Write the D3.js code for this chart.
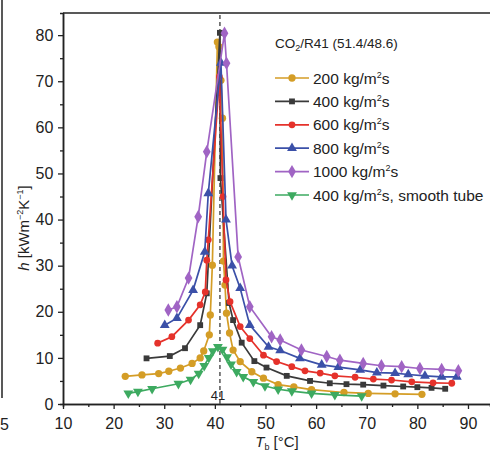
<!DOCTYPE html>
<html>
<head>
<meta charset="utf-8">
<script src="https://cdn.jsdelivr.net/npm/d3@7"></script>
<style>
  body { margin: 0; background: #fff; }
  svg { display: block; font-family: "Liberation Sans", Arial, sans-serif; }
</style>
</head>
<body>
<div id="chart"></div>
<script>
// data: bulk temperature Tb [°C] and h [kW/m2K]
var seriesNames = ["200 kg/m²s", "400 kg/m²s", "600 kg/m²s", "800 kg/m²s", "1000 kg/m²s", "400 kg/m²s, smooth tube"];

var t200 = [22.3, 25.6, 28.9, 30.9, 33.2, 35.5, 37.1, 37.8, 38.9, 39.1, 39.5, 40.5, 40.8, 41.2, 41.5, 41.7, 42.0, 42.3, 42.9, 43.6, 45.0, 47.3, 49.6, 52.5, 55.6, 59.1, 65.5, 70.3, 75.6, 80.9];
var h200 = [6.0, 6.3, 6.6, 7.1, 7.8, 8.8, 10.0, 11.5, 15.0, 19.3, 30.1, 78.5, 77.5, 70.2, 62.0, 31.0, 25.8, 19.7, 15.4, 11.7, 9.2, 7.0, 5.6, 4.2, 3.7, 3.1, 2.5, 2.3, 2.2, 2.1];

var t400 = [26.5, 31.1, 34.1, 37.1, 38.4, 41.0, 41.1, 42.8, 43.6, 45.3, 47.8, 50.2, 54.2, 58.8, 62.7, 66.0, 69.3, 73.3, 77.2, 80.0, 82.8, 85.5];
var h400 = [9.9, 10.4, 12.1, 17.1, 24.0, 80.5, 49.0, 21.9, 18.2, 13.3, 9.3, 7.9, 6.1, 5.0, 4.5, 4.3, 4.2, 4.0, 3.8, 3.65, 3.5, 3.3];

var t600 = [28.7, 31.5, 34.8, 37.1, 38.1, 38.4, 38.7, 40.9, 41.6, 42.2, 43.0, 45.0, 46.9, 49.6, 52.2, 55.2, 57.8, 60.8, 63.7, 67.7, 71.3, 74.9, 78.9, 83.1, 86.8];
var h600 = [13.2, 14.6, 18.2, 21.5, 24.3, 31.2, 35.6, 71.0, 45.0, 26.9, 22.2, 16.8, 14.2, 10.6, 9.2, 8.1, 7.2, 6.7, 6.1, 5.8, 5.4, 5.2, 4.8, 4.6, 4.5];

var t800 = [30.1, 32.5, 35.7, 38.0, 38.7, 41.2, 42.2, 43.4, 45.0, 46.9, 50.6, 52.9, 56.8, 61.1, 64.4, 68.7, 72.0, 75.6, 78.2, 81.5, 84.8, 87.8];
var h800 = [17.1, 18.6, 24.7, 33.0, 45.7, 74.0, 40.0, 30.0, 25.1, 17.1, 12.4, 11.6, 9.9, 8.5, 8.0, 7.4, 6.8, 6.7, 6.4, 6.1, 5.9, 5.9];

var t1000 = [30.8, 32.5, 34.8, 36.7, 38.4, 41.9, 42.3, 44.6, 46.9, 51.2, 52.9, 57.1, 62.1, 64.7, 69.3, 72.9, 76.9, 80.5, 84.8, 88.1];
var h1000 = [20.4, 21.1, 27.3, 40.6, 54.7, 80.4, 73.9, 31.9, 21.1, 14.6, 13.9, 11.7, 10.3, 9.5, 8.8, 8.3, 8.1, 7.7, 7.5, 7.2];

var tSmooth = [22.9, 24.8, 27.6, 32.8, 35.2, 36.8, 37.9, 38.8, 39.6, 40.6, 41.5, 42.4, 43.2, 44.3, 45.6, 47.6, 49.9, 52.5, 55.2, 59.1, 63.7, 69.0];
var hSmooth = [2.3, 2.7, 3.3, 4.4, 5.3, 6.6, 8.3, 10.0, 11.5, 12.4, 11.8, 10.2, 8.6, 7.0, 5.9, 4.8, 3.9, 3.2, 2.8, 2.3, 2.0, 1.7];

var xTicks = [10, 20, 30, 40, 50, 60, 70, 80, 90];
var yTicks = [0, 10, 20, 30, 40, 50, 60, 70, 80];
var peakT = 41;

var colors = ["#D49D26", "#3a3a3a", "#E5322B", "#3B50A8", "#A064C4", "#3DAA60"];
var symbols = [d3.symbolCircle, d3.symbolSquare, d3.symbolCircle, d3.symbolTriangle, d3.symbolDiamond, d3.symbolTriangle];
var symSizes = [42, 34, 36, 42, 52, 42];
var symRot = [0, 0, 0, 0, 0, 180];

var tAll = [t200, t400, t600, t800, t1000, tSmooth];
var hAll = [h200, h400, h600, h800, h1000, hSmooth];

// size
var W = 490, H = 453;
var svg = d3.select("#chart").append("svg").attr("width", W).attr("height", H);

var x = d3.scaleLinear().domain([10, 94.35]).range([63, 490]);
var y = d3.scaleLinear().domain([0, 84.8]).range([404, 13]);

// neighbouring panel edge on the left
svg.append("line").attr("x1", 2).attr("x2", 2).attr("y1", 0).attr("y2", 398)
    .attr("stroke", "#222").attr("stroke-width", 1.5);
svg.append("text").attr("x", 0).attr("y", 430).text("5")
    .style("font-size", "16px").attr("fill", "#222");

// axes
var axisColor = "#222";
var xAxis = svg.append("g").attr("transform", "translate(0,404)")
    .call(d3.axisBottom(x).tickValues(xTicks).tickSize(5).tickSizeOuter(0));
var xMinor = svg.append("g").attr("transform", "translate(0,404)")
    .call(d3.axisBottom(x).tickValues(d3.range(15, 90, 10)).tickSize(3).tickFormat(""));
var yAxis = svg.append("g").attr("transform", "translate(63,0)")
    .call(d3.axisLeft(y).tickValues(yTicks).tickSize(5).tickSizeOuter(0));
var yMinor = svg.append("g").attr("transform", "translate(63,0)")
    .call(d3.axisLeft(y).tickValues(d3.range(5, 85, 10)).tickSize(3).tickFormat(""));

[xAxis, xMinor, yAxis, yMinor].forEach(function (g) {
    g.selectAll("path").attr("stroke", axisColor).attr("stroke-width", 1.5);
    g.selectAll("line").attr("stroke", axisColor).attr("stroke-width", 1.3);
    g.selectAll("text").attr("fill", "#222").style("font-size", "16px")
        .style("font-family", "'Liberation Sans', Arial, sans-serif");
});
xAxis.selectAll("text").attr("dy", "1.05em");
yAxis.selectAll("text").attr("dx", "-0.1em");

// top frame line
svg.append("line").attr("x1", 63).attr("x2", W).attr("y1", y(84.8)).attr("y2", y(84.8))
    .attr("stroke", axisColor).attr("stroke-width", 1.5);

// dashed line at the peak temperature
svg.append("line")
    .attr("x1", x(peakT)).attr("x2", x(peakT))
    .attr("y1", y(0)).attr("y2", y(84.8))
    .attr("stroke", "#555").attr("stroke-width", 1.5).attr("stroke-dasharray", "4,3");
svg.append("text").attr("x", x(peakT) - 2).attr("y", 400).attr("text-anchor", "middle")
    .text("41").style("font-size", "13px").attr("fill", "#222");

// series
var line = d3.line().x(function (d) { return x(d[0]); }).y(function (d) { return y(d[1]); });

tAll.forEach(function (ts, i) {
    var pts = ts.map(function (t, j) { return [t, hAll[i][j]]; });
    var g = svg.append("g");
    g.append("path").datum(pts).attr("d", line)
        .attr("fill", "none").attr("stroke", colors[i]).attr("stroke-width", 1.7);
    g.selectAll(".mk").data(pts).enter().append("path")
        .attr("class", "mk")
        .attr("d", d3.symbol().type(symbols[i]).size(symSizes[i]))
        .attr("transform", function (d) {
            return "translate(" + x(d[0]) + "," + y(d[1]) + ") rotate(" + symRot[i] + ")";
        })
        .attr("fill", colors[i]);
});

// legend
var lg = svg.append("g");
var title = lg.append("text").attr("x", 275).attr("y", 48).style("font-size", "13.5px").attr("fill", "#222");
title.append("tspan").text("CO");
title.append("tspan").text("2").attr("dy", 3).style("font-size", "9px");
title.append("tspan").text("/R41 (51.4/48.6)").attr("dy", -3);

seriesNames.forEach(function (name, i) {
    var yy = 78 + i * 23.4;
    lg.append("line").attr("x1", 275).attr("x2", 309).attr("y1", yy).attr("y2", yy)
        .attr("stroke", colors[i]).attr("stroke-width", 1.7);
    lg.append("path").attr("d", d3.symbol().type(symbols[i]).size(symSizes[i]))
        .attr("transform", "translate(292," + yy + ") rotate(" + symRot[i] + ")")
        .attr("fill", colors[i]);
    var parts = name.split("²");
    var t = lg.append("text").attr("x", 313).attr("y", yy + 5.5)
        .style("font-size", "15.5px").attr("fill", "#222");
    t.append("tspan").text(parts[0]);
    t.append("tspan").text("2").attr("dy", -6).style("font-size", "9px");
    t.append("tspan").text(parts[1]).attr("dy", 6);
});

// axis titles
var xl = svg.append("text").attr("x", 277).attr("y", 447).attr("text-anchor", "middle")
    .style("font-size", "15px").attr("fill", "#222");
xl.append("tspan").text("T").style("font-style", "italic");
xl.append("tspan").text("b").attr("dy", 3).style("font-size", "9px");
xl.append("tspan").text(" [°C]").attr("dy", -3);

var yl = svg.append("text").attr("transform", "translate(29,228) rotate(-90)")
    .attr("text-anchor", "middle").style("font-size", "15px").attr("fill", "#222");
yl.append("tspan").text("h").style("font-style", "italic");
yl.append("tspan").text(" [kWm");
yl.append("tspan").text("−2").attr("dy", -6).style("font-size", "9px");
yl.append("tspan").text("K").attr("dy", 6);
yl.append("tspan").text("−1").attr("dy", -6).style("font-size", "9px");
yl.append("tspan").text("]").attr("dy", 6);
</script>
</body>
</html>
